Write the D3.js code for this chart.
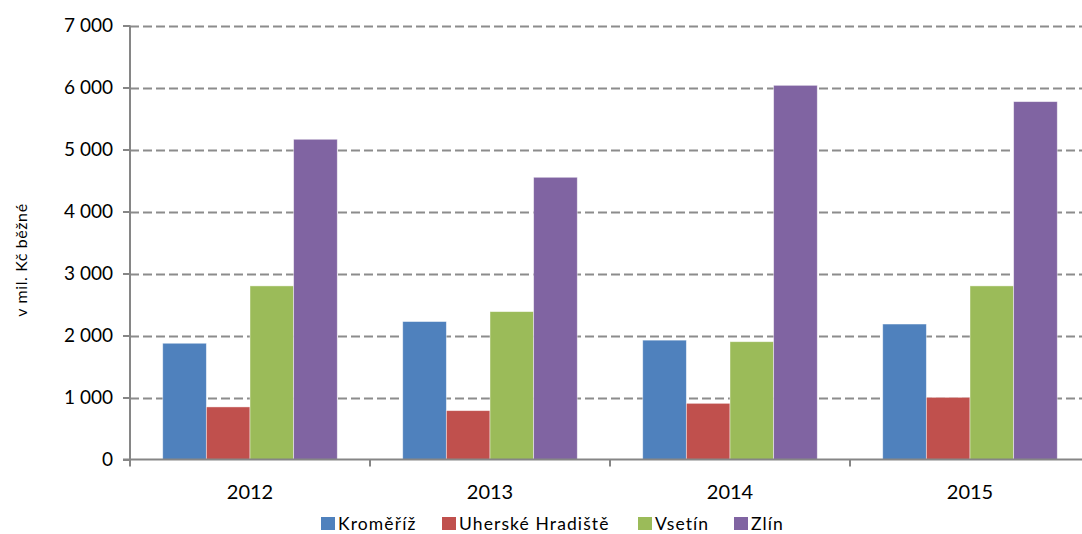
<!DOCTYPE html>
<html>
<head>
<meta charset="utf-8">
<script src="https://cdn.jsdelivr.net/npm/d3@7"></script>
<style>
  html, body { margin: 0; padding: 0; background: #fff; }
  svg { display: block; font-family: Lato, "Open Sans", sans-serif; }
</style>
</head>
<body>
<svg id="chart" width="1082" height="534"></svg>
<script>
// Years on the x axis
const years = ["2012", "2013", "2014", "2015"];
// Districts (series)
const districts = ["Kroměříž", "Uherské Hradiště", "Vsetín", "Zlín"];
const colors = ["#4F81BD", "#C0504D", "#9BBB59", "#8064A2"];
// Values in mil. Kč, one array per district, ordered by year
const kromeriz = [1875, 2225, 1925, 2185];
const uherskeHradiste = [848, 788, 906, 1003];
const vsetin = [2800, 2385, 1900, 2800];
const zlin = [5165, 4552, 6035, 5772];
const seriesValues = [kromeriz, uherskeHradiste, vsetin, zlin];
const yTicks = [0, 1000, 2000, 3000, 4000, 5000, 6000, 7000];

const svg = d3.select("#chart");
const plotLeft = 130, plotRight = 1090, plotTop = 25.5, plotBottom = 459.5;

const x = d3.scaleBand().domain(years).range([plotLeft, plotRight]).paddingInner(0).paddingOuter(0);
// Bars within a year: 4 bars plus a 1.5-bar gap split on both sides
const barW = x.bandwidth() / 5.5;
const xInner = d3.scaleBand().domain(districts)
  .range([barW * 0.75, barW * 4.75]).padding(0);
const y = d3.scaleLinear().domain([0, 7000]).range([plotBottom, plotTop]);

const fmt = v => d3.format(",")(v).replace(/,/g, " ");

// Dashed horizontal gridlines
svg.append("g")
  .selectAll("line")
  .data(yTicks.filter(t => t > 0))
  .join("line")
  .attr("x1", plotLeft).attr("x2", plotRight)
  .attr("y1", d => Math.round(y(d)) + 0.5).attr("y2", d => Math.round(y(d)) + 0.5)
  .attr("stroke", "#8c8c8c").attr("stroke-width", 2)
  .attr("stroke-dasharray", "9,4");

// Bars
const rows = [];
years.forEach((yr, i) => districts.forEach((d, j) => rows.push({ yr, d, j, v: seriesValues[j][i] })));
svg.append("g")
  .selectAll("rect")
  .data(rows)
  .join("rect")
  .attr("x", r => x(r.yr) + xInner(r.d))
  .attr("width", xInner.bandwidth())
  .attr("y", r => y(r.v))
  .attr("height", r => y(0) - y(r.v))
  .attr("fill", r => colors[r.j])
  .attr("stroke", "rgba(255,255,255,0.55)")
  .attr("stroke-width", 0.8);

// Y axis
const yAxis = d3.axisLeft(y).tickValues(yTicks).tickFormat(fmt).tickSize(7).tickPadding(10);
const gy = svg.append("g").attr("transform", `translate(${plotLeft},0)`).call(yAxis);
gy.select(".domain").attr("stroke", "#868686").attr("stroke-width", 2).attr("d", `M0,${plotTop}V${plotBottom}`);
gy.selectAll(".tick line").attr("stroke", "#868686").attr("stroke-width", 2);
gy.selectAll(".tick text").attr("fill", "#000").style("font-size", "19px")
  .style("font-family", "Lato, sans-serif");

// X axis with ticks at category boundaries
const gx = svg.append("g").attr("transform", `translate(0,${plotBottom})`);
gx.append("line").attr("x1", plotLeft - 7).attr("x2", plotRight).attr("y1", 0).attr("y2", 0)
  .attr("stroke", "#868686").attr("stroke-width", 2);
gx.selectAll("line.tk")
  .data(years.map(yr => x(yr)).concat([plotRight]))
  .join("line").attr("class", "tk")
  .attr("x1", d => d).attr("x2", d => d).attr("y1", 0).attr("y2", 7)
  .attr("stroke", "#868686").attr("stroke-width", 2);
gx.selectAll("text")
  .data(years)
  .join("text")
  .attr("x", d => x(d) + x.bandwidth() / 2)
  .attr("y", 39)
  .attr("text-anchor", "middle")
  .style("font-size", "20px")
  .text(d => d);

// Y axis title
svg.append("text")
  .attr("transform", `translate(27,260) rotate(-90)`)
  .attr("text-anchor", "middle")
  .style("font-size", "16px")
  .style("letter-spacing", "0.6px")
  .text("v mil. Kč běžné");

// Legend
const legendX = [321, 442, 638, 734];
const lg = svg.append("g").selectAll("g").data(districts).join("g")
  .attr("transform", (d, i) => `translate(${legendX[i]},517)`);
lg.append("rect").attr("width", 14).attr("height", 13).attr("fill", (d, i) => colors[i]);
lg.append("text").attr("x", 17).attr("y", 13).style("font-size", "17.5px")
  .style("letter-spacing", "1.1px").text(d => d);
</script>
</body>
</html>
